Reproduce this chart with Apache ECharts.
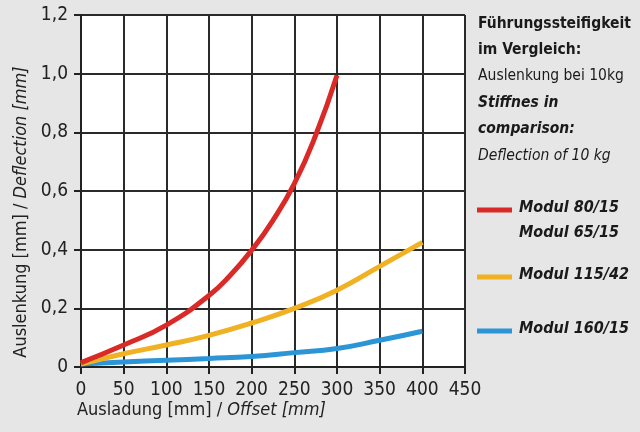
<!DOCTYPE html>
<html><head><meta charset="utf-8">
<script src="https://cdn.jsdelivr.net/npm/echarts@6/dist/echarts.min.js"></script>
<style>html,body{margin:0;padding:0;background:#e6e6e6}#c{width:640px;height:432px}</style>
</head><body><div id="c"></div>
<script>
const xTicks = [0, 50, 100, 150, 200, 250, 300, 350, 400, 450];
const yTicks = [0, 0.2, 0.4, 0.6, 0.8, 1.0, 1.2];

const redX = [0, 50, 100, 150, 175, 200, 225, 250, 275, 300];
const redY = [0.015, 0.075, 0.143, 0.244, 0.313, 0.398, 0.50, 0.625, 0.79, 0.995];
const yellowX = [0, 50, 100, 150, 200, 250, 300, 350, 400];
const yellowY = [0.01, 0.045, 0.075, 0.108, 0.15, 0.2, 0.262, 0.343, 0.425];
const blueX = [0, 50, 100, 150, 200, 250, 300, 350, 400];
const blueY = [0.01, 0.017, 0.023, 0.029, 0.036, 0.049, 0.063, 0.091, 0.122];

const seriesNames = ['Modul 80/15', 'Modul 115/42', 'Modul 160/15'];
const legendExtra = 'Modul 65/15';
const titleLines = ['Führungssteifigkeit', 'im Vergleich:', 'Auslenkung bei 10kg', 'Stiffnes in', 'comparison:', 'Deflection of 10 kg'];
const colors = ['#da2a27', '#f0b122', '#2b95d6'];

const FONT = '"Liberation Sans Narrow", "DejaVu Sans Condensed", "Liberation Sans", sans-serif';
const pair = (xs, ys) => xs.map((x, i) => [x, ys[i]]);

const chart = echarts.init(document.getElementById('c'));

const titleStyles = [
  {fontWeight: 'bold', fontStyle: 'normal'},
  {fontWeight: 'bold', fontStyle: 'normal'},
  {fontWeight: 'normal', fontStyle: 'normal'},
  {fontWeight: 'bold', fontStyle: 'italic'},
  {fontWeight: 'bold', fontStyle: 'italic'},
  {fontWeight: 'normal', fontStyle: 'italic'}
];
const titleYs = [25, 51, 77, 104, 130, 157];
const graphics = titleLines.map((t, i) => ({
  type: 'text', left: 478, top: titleYs[i] - 9,
  style: Object.assign({text: t, fontFamily: FONT, fontSize: 15.5, fill: '#1a1a1a'}, titleStyles[i])
}));
const legYs = [210, 277, 331];
seriesNames.forEach((n, i) => {
  graphics.push({type: 'line', shape: {x1: 477, y1: legYs[i], x2: 512, y2: legYs[i]}, style: {stroke: colors[i], lineWidth: 5}});
  graphics.push({type: 'text', left: 519, top: legYs[i] - 10, style: {text: n, fontFamily: FONT, fontSize: 16, fontWeight: 'bold', fontStyle: 'italic', fill: '#1a1a1a'}});
});
graphics.push({type: 'text', left: 519, top: 235 - 10, style: {text: legendExtra, fontFamily: FONT, fontSize: 16, fontWeight: 'bold', fontStyle: 'italic', fill: '#1a1a1a'}});

chart.setOption({
  backgroundColor: '#e6e6e6',
  animation: false,
  grid: {left: 81, right: 175, top: 15, bottom: 65, show: true, backgroundColor: '#ffffff', borderWidth: 0},
  xAxis: {
    type: 'value', min: xTicks[0], max: xTicks[xTicks.length - 1], interval: 50,
    name: 'Ausladung [mm] / {i|Offset [mm]}', nameLocation: 'start', nameGap: 0,
    nameTextStyle: {fontFamily: FONT, fontSize: 18, color: '#222', align: 'left', verticalAlign: 'top', padding: [34, 0, 0, -4],
      rich: {i: {fontFamily: FONT, fontSize: 18, fontStyle: 'italic', color: '#222'}}},
    axisLine: {lineStyle: {color: '#222', width: 2}},
    axisTick: {show: true, length: 7, lineStyle: {color: '#222', width: 2}},
    axisLabel: {fontFamily: FONT, fontSize: 19, color: '#222', margin: 14, showMaxLabel: true},
    splitLine: {show: true, lineStyle: {color: '#2a2a2a', width: 2}}
  },
  yAxis: {
    type: 'value', min: yTicks[0], max: yTicks[yTicks.length - 1], interval: 0.2,
    name: 'Auslenkung [mm] / {i|Deflection [mm]}', nameLocation: 'middle', nameGap: 49, nameRotate: 90,
    nameTextStyle: {fontFamily: FONT, fontSize: 18, color: '#222', padding: [0, 42, 0, 0],
      rich: {i: {fontFamily: FONT, fontSize: 18, fontStyle: 'italic', color: '#222'}}},
    axisLine: {show: true, lineStyle: {color: '#222', width: 2}},
    axisTick: {show: true, length: 7, lineStyle: {color: '#222', width: 2}},
    axisLabel: {fontFamily: FONT, fontSize: 19, color: '#222', margin: 13,
      formatter: v => v === 0 ? '0' : v.toFixed(1).replace('.', ',')},
    splitLine: {show: true, lineStyle: {color: '#2a2a2a', width: 2}}
  },
  series: [
    {name: seriesNames[0], type: 'line', data: pair(redX, redY), smooth: true, showSymbol: false, z: 5, lineStyle: {color: colors[0], width: 5}},
    {name: seriesNames[1], type: 'line', data: pair(yellowX, yellowY), smooth: true, showSymbol: false, z: 4, lineStyle: {color: colors[1], width: 5}},
    {name: seriesNames[2], type: 'line', data: pair(blueX, blueY), smooth: true, showSymbol: false, z: 3, lineStyle: {color: colors[2], width: 5}}
  ],
  graphic: graphics
});
</script></body></html>
